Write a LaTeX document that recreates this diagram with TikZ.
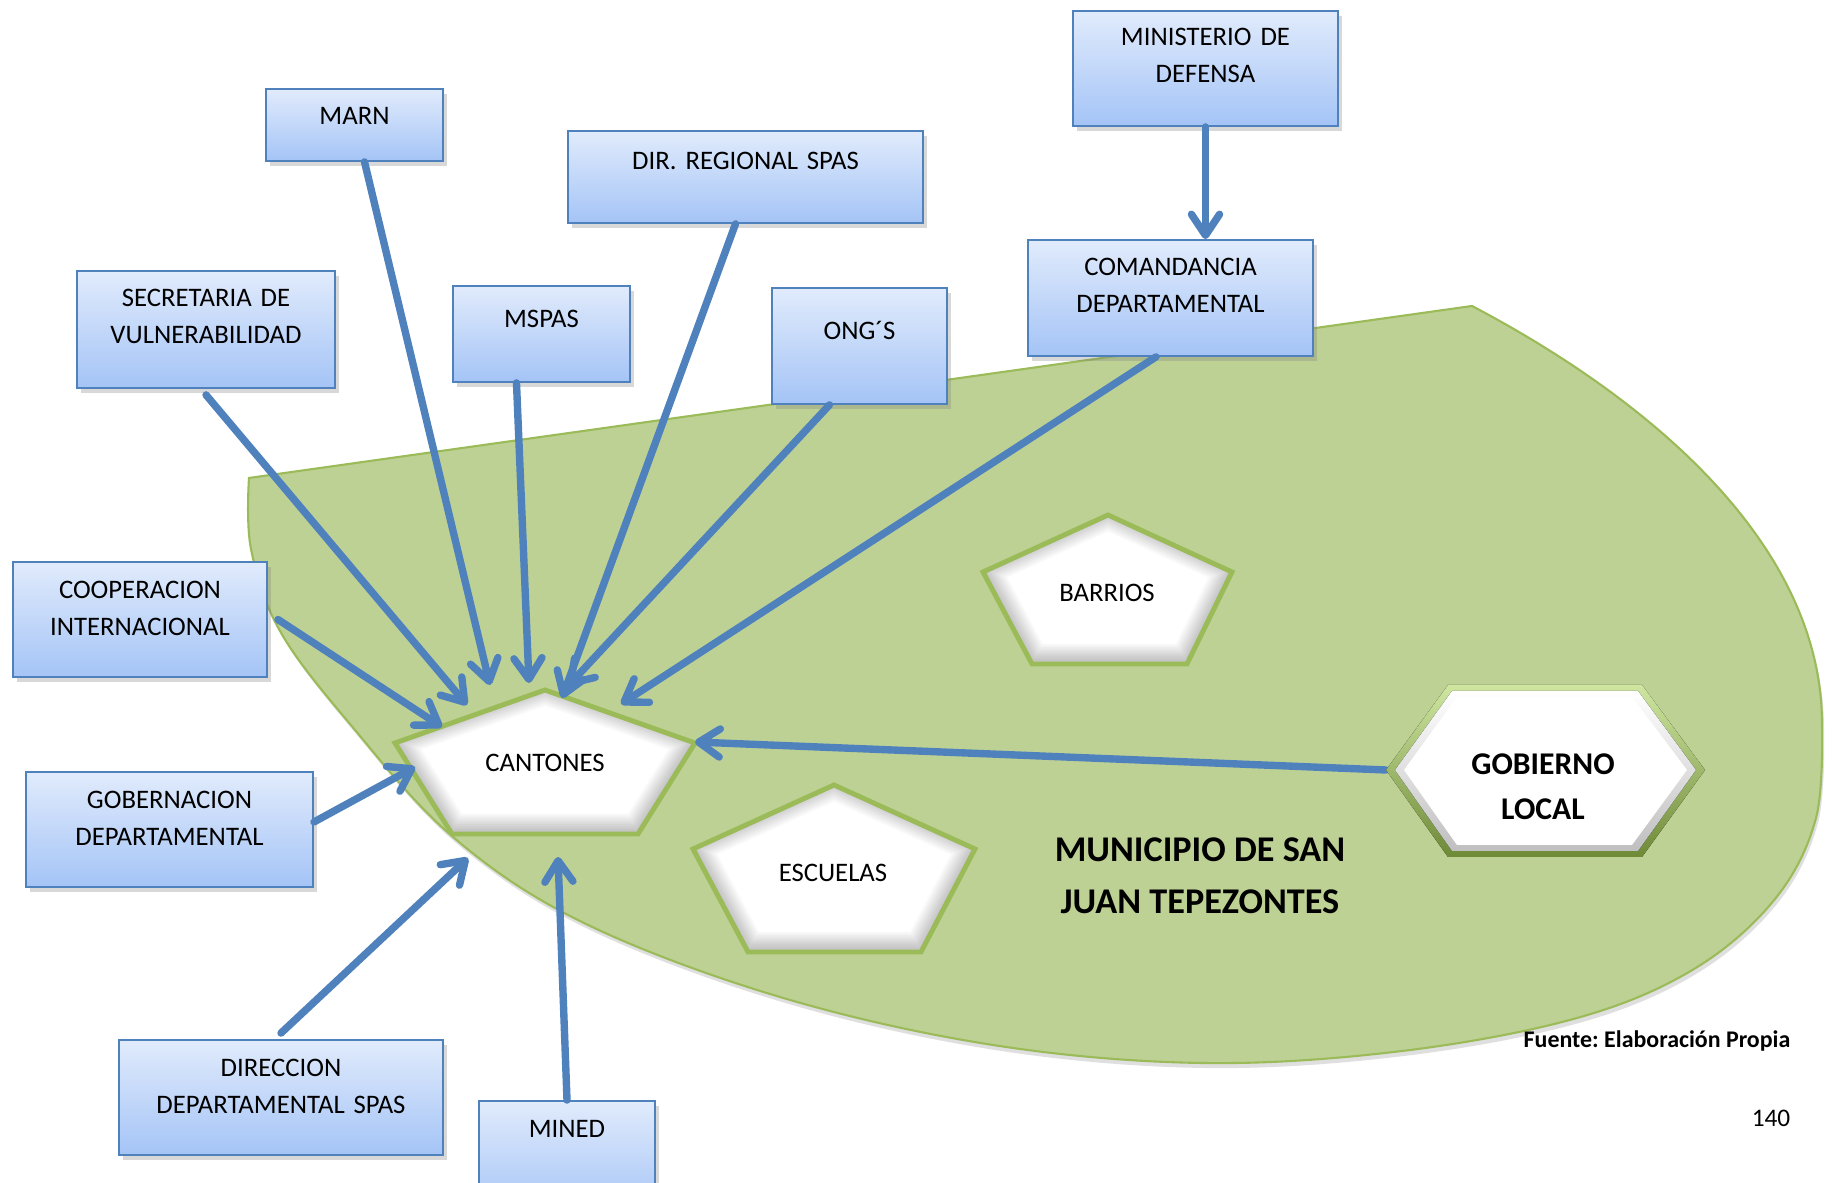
\documentclass[tikz,border=0pt]{standalone}
\usepackage{fontspec}
\setmainfont{Carlito}
\usepackage{tikz}
\usetikzlibrary{arrows.meta, shadows}
\definecolor{mzblue}{RGB}{79, 129, 189}
\definecolor{mzgreen}{RGB}{190, 209, 149}
\definecolor{mzborder}{RGB}{155, 187, 89}
\definecolor{mzboxtop}{RGB}{225, 235, 252}
\definecolor{mzboxbot}{RGB}{164, 196, 246}
\definecolor{mzlight}{RGB}{206, 230, 160}
\definecolor{mzdark}{RGB}{110, 138, 55}
\frenchspacing

% white pentagon with inner shadow and green border
\newcommand{\pentagono}[1]{%
  \begin{scope}
    \clip #1;
    \fill[white] #1;
    \foreach \w in {1,...,10}
      \draw[black, line width=\w pt, opacity=0.022, transform canvas={yshift=0.8pt}] #1;
  \end{scope}
  \draw[mzborder, line width=1.4pt] #1;
}

\begin{document}
\begin{tikzpicture}[x=0.01cm, y=-0.01cm,
  caja/.style={draw=mzblue, line width=0.5pt, top color=mzboxtop, bottom color=mzboxbot,
    drop shadow={shadow xshift=0.04cm, shadow yshift=-0.05cm, opacity=0.3},
    font=\fontsize{7.6}{10.5}\selectfont, align=center, inner sep=0pt, text height=0pt},
  flecha/.style={mzblue, line width=2.1pt, line cap=round,
    -{Straight Barb[length=6pt, width=8pt, round]}},
  rotulo/.style={font=\fontsize{7.6}{10.5}\selectfont, inner sep=0pt}]

% Page
\fill[white] (0,0) rectangle (1832,1183);
\useasboundingbox (0,0) rectangle (1832,1183);

% Municipality area
\filldraw[fill=mzgreen, draw=mzborder, line width=0.6pt,
  drop shadow={shadow xshift=0.02cm, shadow yshift=-0.05cm, opacity=0.25}]
  (1472,306) .. controls (1660,405) and (1822,550) .. (1822,724)
  -- plot[smooth, tension=0.6] coordinates {(1822,724) (1816,818) (1775,899) (1694,969)
    (1577,1018) (1402,1051) (1203,1063) (993,1045) (780,997) (584,923) (453,837)
    (350,724) (280,631) (251,549) (249,478)} -- cycle;

% Communities
\pentagono{(545,690) -- (695,743) -- (638,834) -- (452,834) -- (395,743) -- cycle}
\pentagono{(1108,515) -- (1232,572) -- (1187,664) -- (1032,664) -- (983,572) -- cycle}
\pentagono{(834,785) -- (975,849) -- (921,952) -- (748,952) -- (693,849) -- cycle}
\node[rotulo] (cantones) at (545,763) {CANTONES};
\node[rotulo] (barrios) at (1107,593) {BARRIOS};
\node[rotulo] (escuelas) at (833,873) {ESCUELAS};

% Arrow ends at CANTONES
\coordinate (c-secre) at (467,705);
\coordinate (c-marn) at (490,685);
\coordinate (c-mspas) at (529,683);
\coordinate (c-dir) at (562,698);
\coordinate (c-ong) at (568,686);
\coordinate (c-coman) at (621,704);
\coordinate (c-coop) at (442,727);
\coordinate (c-gober) at (415,767);
\coordinate (c-direc) at (468,858);
\coordinate (c-mined) at (558,857);
\coordinate (c-gob) at (695,742);
\coordinate (gob-w) at (1386,770);

% Local government
\draw[flecha] (gob-w) -- (c-gob);
\fill[top color=mzlight, bottom color=mzdark] (1386,770) -- (1448,685) -- (1642,685)
  -- (1705,770) -- (1642,857) -- (1448,857) -- cycle;
\fill[top color=white, bottom color=black!25] (1395,770) -- (1452,691) -- (1638,691)
  -- (1696,770) -- (1638,851) -- (1452,851) -- cycle;
\fill[white] (1404,770) -- (1457,697) -- (1632,697) -- (1687,770) -- (1632,845)
  -- (1457,845) -- cycle;
\node[font=\bfseries\fontsize{9}{12.8}\selectfont, align=center] (gobierno) at (1543,787)
  {GOBIERNO\\LOCAL};

% Titles
\node[font=\bfseries\fontsize{10.3}{14.7}\selectfont, align=center] (municipio) at (1200,876)
  {MUNICIPIO DE SAN\\JUAN TEPEZONTES};
\node[anchor=east, inner sep=0pt, font=\bfseries\fontsize{6.8}{8}\selectfont] (fuente)
  at (1791,1041) {Fuente: Elaboración Propia};
\node[anchor=east, inner sep=0pt, font=\fontsize{7.2}{9}\selectfont] (pagina)
  at (1791,1118) {140};

% Institutions
\node[caja, minimum width=2.65cm, minimum height=1.15cm, text width=2.45cm, text depth=0.46cm]
  (minis) at (1205.5,68.5) {MINISTERIO DE\\DEFENSA};
\node[caja, minimum width=2.85cm, minimum height=1.16cm, text width=2.65cm, text depth=0.45cm]
  (coman) at (1170.5,298) {COMANDANCIA\\DEPARTAMENTAL};
\node[caja, minimum width=1.77cm, minimum height=0.72cm, text width=1.57cm, text depth=0cm]
  (marn) at (354.5,125) {MARN};
\node[caja, minimum width=3.55cm, minimum height=0.92cm, text width=3.35cm, text depth=0.15cm]
  (dirspas) at (745.5,177) {DIR. REGIONAL SPAS};
\node[caja, minimum width=2.58cm, minimum height=1.17cm, text width=2.38cm, text depth=0.46cm]
  (secre) at (206,329.5) {SECRETARIA DE\\VULNERABILIDAD};
\node[caja, minimum width=1.77cm, minimum height=0.96cm, text width=1.57cm, text depth=0.13cm]
  (mspas) at (541.5,334) {MSPAS};
\node[caja, minimum width=1.75cm, minimum height=1.16cm, text width=1.55cm, text depth=0.13cm]
  (ong) at (859.5,346) {ONG´S};
\node[caja, minimum width=2.54cm, minimum height=1.15cm, text width=2.34cm, text depth=0.42cm]
  (coop) at (140,619.5) {COOPERACION\\INTERNACIONAL};
\node[caja, minimum width=2.87cm, minimum height=1.15cm, text width=2.67cm, text depth=0.42cm]
  (gober) at (169.5,829.5) {GOBERNACION\\DEPARTAMENTAL};
\node[caja, minimum width=3.24cm, minimum height=1.15cm, text width=3.04cm, text depth=0.42cm]
  (direc) at (281,1097.5) {DIRECCION\\DEPARTAMENTAL SPAS};
\node[caja, minimum width=1.76cm, minimum height=1.15cm, text width=1.56cm, text depth=0.42cm]
  (mined) at (567,1158.5) {MINED};

% Connections
\draw[flecha] (minis.south) -- (minis.south |- coman.north);
\draw[flecha] ([xshift=-0.145cm]coman.south) -- (c-coman);
\draw[flecha] ([xshift=-0.3cm]ong.south) -- (c-ong);
\draw[flecha] ([xshift=-0.1cm]dirspas.south) -- (c-dir);
\draw[flecha] ([xshift=-0.25cm]mspas.south) -- (c-mspas);
\draw[flecha] ([xshift=0.1cm]marn.south) -- (c-marn);
\draw[flecha] ([yshift=-0.06cm]secre.south) -- (c-secre);
\draw[flecha] ([xshift=0.1cm]coop.east) -- (c-coop);
\draw[flecha] ([yshift=0.075cm]gober.east) -- (c-gober);
\draw[flecha] ([yshift=0.06cm]direc.north) -- (c-direc);
\draw[flecha] (mined.north) -- (c-mined);
\end{tikzpicture}
\end{document}
